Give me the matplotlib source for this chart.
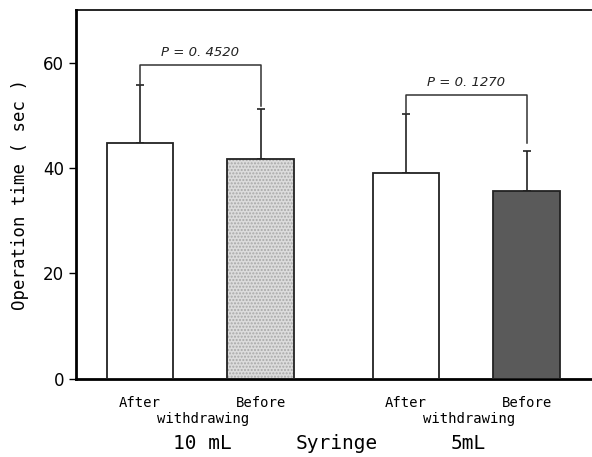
import matplotlib.pyplot as plt
import numpy as np

# bar data
x_pos = [0, 1, 2.2, 3.2]
means = [44.7, 41.8, 39.0, 35.6]
sd = [11.1, 9.5, 11.3, 7.7]
colors = ['white', '#dcdcdc', 'white', '#5a5a5a']
hatches = ['', '.....', '', '']
bar_labels = ['After', 'Before', 'After', 'Before']
group_labels = ['10 mL', '5mL']
p_values = ['P = 0. 4520', 'P = 0. 1270']
bracket_y = [59.6, 53.9]
bracket_drop = [(55.8, 51.8), (50.3, 44.7)]

plt.rcParams['font.family'] = ['Liberation Sans Narrow', 'DejaVu Sans']
mono = ['DejaVu Sans Mono']

fig = plt.figure(figsize=(5.92, 4.57), dpi=100)
ax = fig.add_axes([0.128, 0.171, 0.872, 0.807])

# fill with texture, then outline
ax.bar(x_pos, means, width=0.55, color=colors, edgecolor='#a8a8a8', hatch=hatches,
       linewidth=0, zorder=2)
ax.bar(x_pos, means, width=0.55, color='none', edgecolor='#222222', linewidth=1.3, zorder=3)
ax.errorbar(x_pos, means, yerr=[np.zeros(4), sd], fmt='none', ecolor='#222222',
            elinewidth=1.2, capsize=3, capthick=1.2, zorder=1)

# significance brackets
for i in range(2):
    xl, xr = x_pos[2 * i], x_pos[2 * i + 1]
    y = bracket_y[i]
    dl, dr = bracket_drop[i]
    ax.plot([xl, xl, xr, xr], [dl, y, y, dr], color='#333333', lw=1.1)
    ax.text((xl + xr) / 2, y + 1.2, p_values[i], ha='center', va='bottom',
            fontsize=9.5, style='italic', color='#222222')

ax.set_xlim(-0.53, 3.74)
ax.set_ylim(0, 70)
ax.set_yticks([0, 20, 40, 60])
ax.set_xticks([])
ax.tick_params(axis='y', labelsize=12, length=5, width=1, direction='out')
ax.spines['right'].set_visible(False)
ax.spines['left'].set_linewidth(2)
ax.spines['bottom'].set_linewidth(2)
ax.spines['top'].set_linewidth(1.2)

ax.set_ylabel('Operation time ( sec )', fontsize=12.5, family=mono)
ax.yaxis.set_label_coords(-0.09, 0.5)

for xp, lab in zip(x_pos, bar_labels):
    ax.text(xp, -4.5, lab, ha='center', va='center', fontsize=10, family=mono)
for i in range(2):
    mid = (x_pos[2 * i] + x_pos[2 * i + 1]) / 2
    ax.text(mid + 0.02, -7.7, 'withdrawing', ha='center', va='center', fontsize=10, family=mono)
    ax.text(mid + 0.02, -12.2, group_labels[i], ha='center', va='center', fontsize=14, family=mono)
ax.text(1.63, -12.2, 'Syringe', ha='center', va='center', fontsize=14, family=mono)

fig.savefig('out.png', dpi=100)
